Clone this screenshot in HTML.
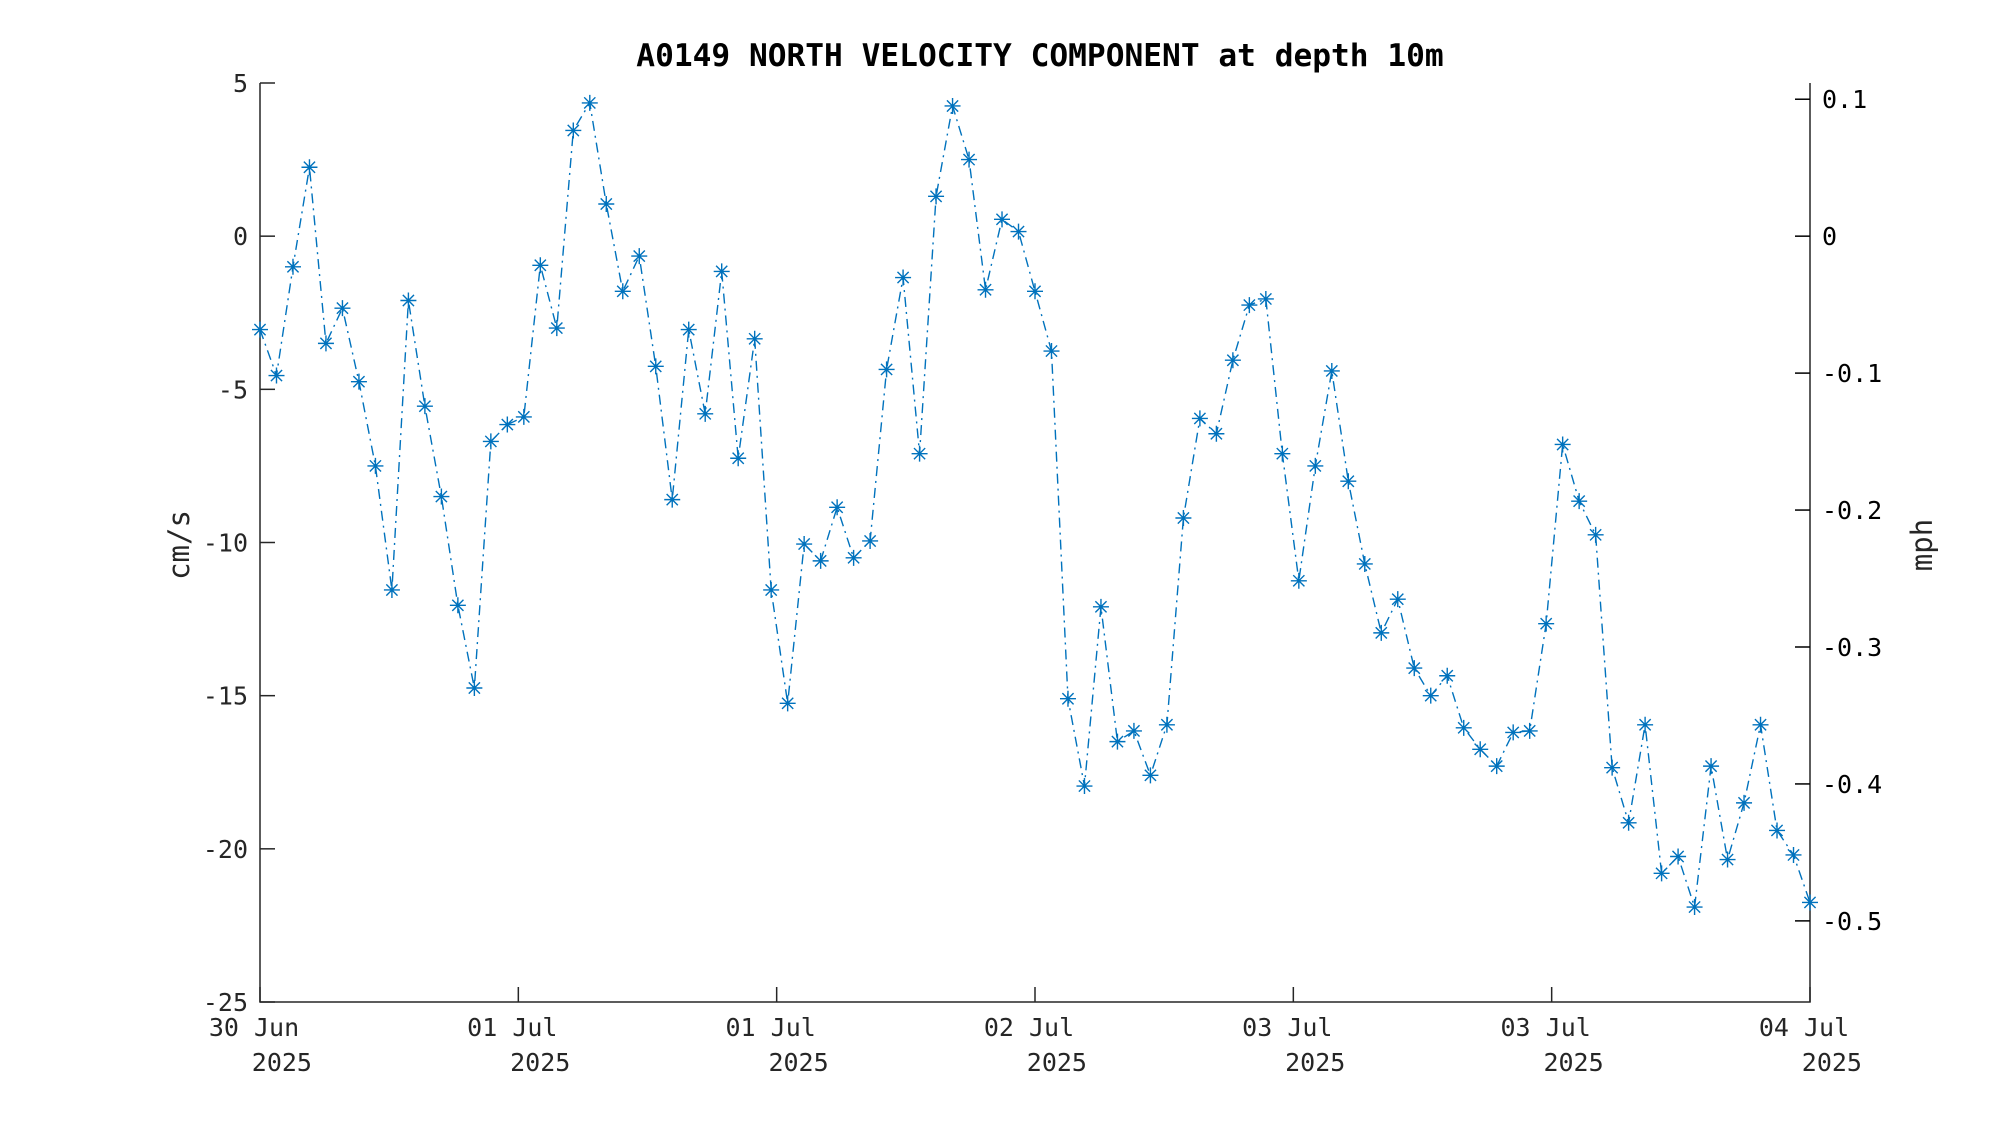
<!DOCTYPE html>
<html><head><meta charset="utf-8"><style>
body{margin:0;background:#fff}
svg{display:block;font-family:"DejaVu Sans Mono","Liberation Mono",monospace}
</style></head><body>
<svg id="chart" width="2000" height="1125" viewBox="0 0 2000 1125">
<rect width="2000" height="1125" fill="#fff"/>
<text x="1040" y="66" text-anchor="middle" font-size="31.2" font-weight="bold" fill="#000">A0149 NORTH VELOCITY COMPONENT at depth 10m</text>
<g id="axes"></g>
<g id="series"></g>
<text transform="translate(189,545) rotate(-90)" text-anchor="middle" font-size="29" fill="#262626">cm/s</text>
<text transform="translate(1932,545) rotate(-90)" text-anchor="middle" font-size="29" fill="#262626">mph</text>
</svg>
<script>
const values = [-3.05,-4.55,-1.0,2.25,-3.5,-2.35,-4.75,-7.5,-11.55,-2.1,-5.55,-8.5,-12.05,-14.75,-6.7,-6.15,-5.9,-0.95,-3.0,3.45,4.35,1.05,-1.8,-0.65,-4.25,-8.6,-3.05,-5.8,-1.15,-7.25,-3.35,-11.55,-15.25,-10.05,-10.6,-8.85,-10.5,-9.95,-4.35,-1.35,-7.1,1.3,4.25,2.5,-1.75,0.55,0.15,-1.8,-3.75,-15.1,-17.95,-12.1,-16.5,-16.15,-17.6,-15.95,-9.2,-5.95,-6.45,-4.05,-2.25,-2.05,-7.1,-11.25,-7.5,-4.4,-8.0,-10.7,-12.95,-11.85,-14.1,-15.0,-14.35,-16.05,-16.75,-17.3,-16.2,-16.15,-12.65,-6.8,-8.65,-9.75,-17.35,-19.15,-15.95,-20.8,-20.25,-21.9,-17.3,-20.35,-18.5,-15.95,-19.4,-20.2,-21.75];
const yTicks = [5,0,-5,-10,-15,-20,-25];
const mphTicks = [0.1,0,-0.1,-0.2,-0.3,-0.4,-0.5];
const mphLabels = ["0.1","0","-0.1","-0.2","-0.3","-0.4","-0.5"];
const xTickLabels = ["30 Jun","01 Jul","01 Jul","02 Jul","03 Jul","03 Jul","04 Jul"];
const totalHours = 96;

const L=260,R=1810,T=83,B=1002,yMin=-25,yMax=5;
const NS="http://www.w3.org/2000/svg";
const ys=v=>T+(yMax-v)/(yMax-yMin)*(B-T);
const xs=h=>L+h/totalHours*(R-L);
function mk(tag,attrs,parent){const e=document.createElementNS(NS,tag);for(const k in attrs)e.setAttribute(k,attrs[k]);parent.appendChild(e);return e;}
const ax=document.getElementById('axes'), se=document.getElementById('series');

let p=mk('path',{d:`M${L},${T}V${B}H${R}V${T}`,fill:'none',stroke:'#262626','stroke-width':1.5},ax);



yTicks.forEach(v=>{
  const y=ys(v);
  const t=mk('line',{x1:L,x2:L+15,y1:y,y2:y,stroke:'#262626','stroke-width':1.5},ax);
  
  
  const tx=mk('text',{x:L-12,y:y+9,'text-anchor':'end','font-size':25,fill:'#262626'},ax);
  tx.textContent=v;
  
  
});
mphTicks.forEach((v,i)=>{
  const y=ys(v*44.704);
  const t=mk('line',{x1:R-15,x2:R,y1:y,y2:y,stroke:'#000','stroke-width':1.5},ax);
  
  
  const tx=mk('text',{x:R+12,y:y+9,'font-size':25,fill:'#000'},ax);
  tx.textContent=mphLabels[i];
  
  
});
xTickLabels.forEach((lab,i)=>{
  const x=xs(i*totalHours/(xTickLabels.length-1));
  const t=mk('line',{x1:x,x2:x,y1:B,y2:B-15,stroke:'#262626','stroke-width':1.5},ax);
  
  
  const a=mk('text',{x:x-6,y:1036,'text-anchor':'middle','font-size':25,fill:'#262626'},ax);
  a.textContent=lab;
  
  
  const b=mk('text',{x:x+52,y:1071,'text-anchor':'end','font-size':25,fill:'#262626'},ax);
  b.textContent='2025';
  
  
});
const step=totalHours/(values.length-1);
const pts=values.map((v,i)=>[xs(i*step),ys(v)]);
const line=mk('polyline',{points:pts.map(q=>q.join(',')).join(' '),fill:'none',stroke:'#0072BD','stroke-width':1.4,'stroke-dasharray':'10 5 2 5'},se);


pts.forEach(([x,y])=>{
  const r=8,d=r*0.7;
  const m=mk('path',{d:`M${x-r},${y}H${x+r}M${x},${y-r}V${y+r}M${x-d},${y-d}L${x+d},${y+d}M${x-d},${y+d}L${x+d},${y-d}`,stroke:'#0072BD','stroke-width':1.4,fill:'none'},se);
  
  
});
</script>
</body></html>
